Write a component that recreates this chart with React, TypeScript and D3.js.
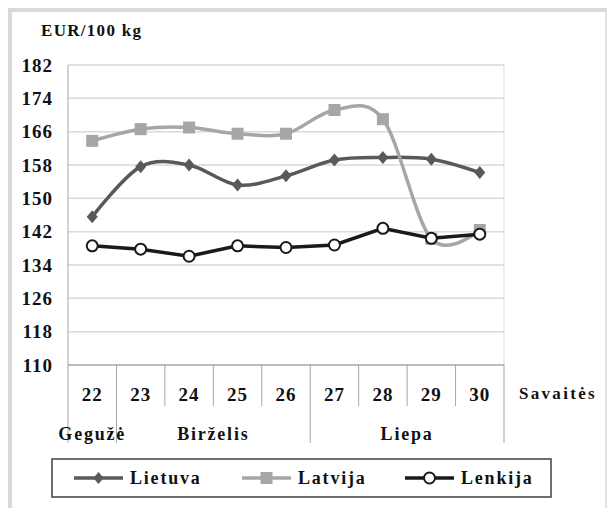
import { useEffect, useRef } from "react";
import * as d3 from "d3";

const weeks = ["22", "23", "24", "25", "26", "27", "28", "29", "30"];
const months = ["Gegužė", "Birželis", "Liepa"];
const monthStart = [0, 1, 5]; // index of first week in each month
const monthEnd = [0, 4, 8];
const yTicks = [110, 118, 126, 134, 142, 150, 158, 166, 174, 182];

const lietuva = [145.6, 157.6, 158.0, 153.2, 155.4, 159.2, 159.8, 159.4, 156.2];
const latvija = [163.8, 166.6, 167.0, 165.5, 165.5, 171.2, 169.0, 140.3, 142.4];
const lenkija = [138.6, 137.8, 136.1, 138.6, 138.2, 138.8, 142.8, 140.4, 141.4];

const FONT = "'Liberation Serif', 'Times New Roman', serif";

export default function App() {
  const ref = useRef<SVGSVGElement>(null);

  useEffect(() => {
    const svg = d3.select(ref.current);
    svg.selectAll("*").remove();

    const left = 68, right = 504, top = 65, bottom = 365;

    var x = d3.scaleBand<string>().domain(weeks).range([left, right]);
    var y = d3.scaleLinear().domain([110, 182]).range([bottom, top]);
    var cx = (i: number) => x(weeks[i])! + x.bandwidth() / 2;

    // outer frame
    svg.append("rect").attr("x", 8).attr("y", 8).attr("width", 598).attr("height", 4).attr("fill", "#d9d9d9");
    svg.append("rect").attr("x", 8).attr("y", 8).attr("width", 4).attr("height", 500).attr("fill", "#d9d9d9");
    svg.append("line").attr("x1", 606).attr("x2", 606).attr("y1", 8).attr("y2", 508)
      .attr("stroke", "#d9d9d9").attr("stroke-width", 1.5);

    svg.append("text").attr("x", 41).attr("y", 36)
      .style("font-family", FONT).style("font-weight", "bold").style("font-size", "17px")
      .style("letter-spacing", "1.3px").attr("fill", "#111").text("EUR/100 kg");

    // gridlines
    svg.selectAll("line.grid").data(yTicks.slice(1)).enter().append("line")
      .attr("x1", left).attr("x2", right)
      .attr("y1", d => y(d)).attr("y2", d => y(d))
      .attr("stroke", "#d9d9d9").attr("stroke-width", 1.5);

    svg.selectAll("text.ytick").data(yTicks).enter().append("text")
      .attr("x", 53).attr("y", d => y(d)).attr("dy", "0.35em")
      .attr("text-anchor", "end")
      .style("font-family", FONT).style("font-weight", "bold").style("font-size", "19px")
      .style("letter-spacing", "1px").attr("fill", "#111")
      .text(d => d);

    // axes
    svg.append("line").attr("x1", left).attr("x2", left).attr("y1", top).attr("y2", bottom)
      .attr("stroke", "#a6a6a6").attr("stroke-width", 1);
    svg.append("line").attr("x1", right).attr("x2", right).attr("y1", top).attr("y2", bottom)
      .attr("stroke", "#d9d9d9").attr("stroke-width", 1);
    svg.append("line").attr("x1", left).attr("x2", right).attr("y1", bottom).attr("y2", bottom)
      .attr("stroke", "#a6a6a6").attr("stroke-width", 1.5);

    // week dividers
    var edges = weeks.map(w => x(w)!).concat([right]);
    svg.selectAll("line.wk").data(edges).enter().append("line")
      .attr("x1", d => d).attr("x2", d => d).attr("y1", bottom).attr("y2", 406)
      .attr("stroke", "#a6a6a6").attr("stroke-width", 1);
    var mEdges = monthStart.map(i => x(weeks[i])!).concat([right]);
    svg.selectAll("line.mo").data(mEdges).enter().append("line")
      .attr("x1", d => d).attr("x2", d => d).attr("y1", 406).attr("y2", 443)
      .attr("stroke", "#a6a6a6").attr("stroke-width", 1);

    svg.selectAll("text.wk").data(weeks).enter().append("text")
      .attr("x", (d, i) => cx(i)).attr("y", 394).attr("dy", "0.35em")
      .attr("text-anchor", "middle")
      .style("font-family", FONT).style("font-weight", "bold").style("font-size", "19px")
      .style("letter-spacing", "1px").attr("fill", "#111")
      .text(d => d);

    svg.selectAll("text.mo").data(months).enter().append("text")
      .attr("x", (d, i) => (x(weeks[monthStart[i]])! + x(weeks[monthEnd[i]])! + x.bandwidth()) / 2)
      .attr("y", 434).attr("dy", "0.35em")
      .attr("text-anchor", "middle")
      .style("font-family", FONT).style("font-weight", "bold").style("font-size", "18px")
      .style("letter-spacing", "1.8px").attr("fill", "#111")
      .text(d => d);

    svg.append("text").attr("x", 519).attr("y", 393).attr("dy", "0.35em")
      .style("font-family", FONT).style("font-weight", "bold").style("font-size", "17px")
      .style("letter-spacing", "2.3px").attr("fill", "#111").text("Savaitės");

    // series
    var smooth = d3.line<number>().x((d, i) => cx(i)).y(d => y(d)).curve(d3.curveCardinal.tension(0));
    var straight = d3.line<number>().x((d, i) => cx(i)).y(d => y(d));

    var diamond = (s: number) => `M0,${-s}L${s * 0.85},0L0,${s}L${-s * 0.85},0Z`;

    svg.append("path").attr("d", smooth(lietuva)).attr("fill", "none")
      .attr("stroke", "#595959").attr("stroke-width", 3.5);
    svg.selectAll("path.lt").data(lietuva).enter().append("path")
      .attr("d", diamond(6.5))
      .attr("transform", (d, i) => "translate(" + cx(i) + "," + y(d) + ")")
      .attr("fill", "#595959");

    svg.append("path").attr("d", smooth(latvija)).attr("fill", "none")
      .attr("stroke", "#a6a6a6").attr("stroke-width", 3.5);
    svg.selectAll("rect.lv").data(latvija).enter().append("rect")
      .attr("x", (d, i) => cx(i) - 6).attr("y", d => y(d) - 6)
      .attr("width", 12).attr("height", 12).attr("fill", "#a6a6a6");

    svg.append("path").attr("d", straight(lenkija)).attr("fill", "none")
      .attr("stroke", "#1a1a1a").attr("stroke-width", 3.5);
    svg.selectAll("circle.pl").data(lenkija).enter().append("circle")
      .attr("cx", (d, i) => cx(i)).attr("cy", d => y(d)).attr("r", 5.5)
      .attr("fill", "#fff").attr("stroke", "#1a1a1a").attr("stroke-width", 2);

    // legend
    svg.append("rect").attr("x", 52).attr("y", 459).attr("width", 499).attr("height", 38)
      .attr("fill", "#fff").attr("stroke", "#404040").attr("stroke-width", 1.5);
    var legend = [
      { name: "Lietuva", x: 74, color: "#595959", mark: "diamond" },
      { name: "Latvija", x: 242, color: "#a6a6a6", mark: "square" },
      { name: "Lenkija", x: 405, color: "#1a1a1a", mark: "circle" },
    ];
    var ly = 478;
    legend.forEach(l => {
      svg.append("line").attr("x1", l.x).attr("x2", l.x + 49).attr("y1", ly).attr("y2", ly)
        .attr("stroke", l.color).attr("stroke-width", 3.5);
      if (l.mark === "diamond") {
        svg.append("path").attr("d", diamond(6)).attr("transform", "translate(" + (l.x + 24.5) + "," + ly + ")")
          .attr("fill", l.color);
      } else if (l.mark === "square") {
        svg.append("rect").attr("x", l.x + 18.5).attr("y", ly - 6).attr("width", 12).attr("height", 12)
          .attr("fill", l.color);
      } else {
        svg.append("circle").attr("cx", l.x + 24.5).attr("cy", ly).attr("r", 5.5)
          .attr("fill", "#fff").attr("stroke", l.color).attr("stroke-width", 2);
      }
      svg.append("text").attr("x", l.x + 56).attr("y", ly).attr("dy", "0.35em")
        .style("font-family", FONT).style("font-weight", "bold").style("font-size", "18px")
        .style("letter-spacing", "1.8px").attr("fill", "#111").text(l.name);
    });
  }, []);

  return (
    <svg ref={ref} width={608} height={508}
      style={{ position: "absolute", left: 0, top: 0, background: "#fff" }} />
  );
}
